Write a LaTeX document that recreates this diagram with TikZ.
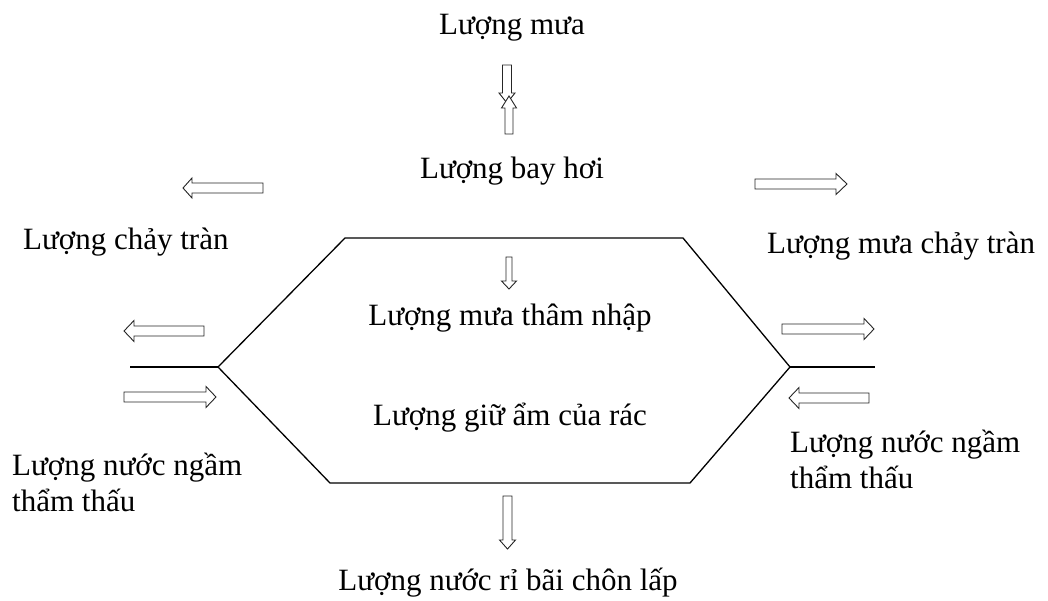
\documentclass[tikz,border=0pt]{standalone}
\usepackage{fontspec}
\setmainfont{Liberation Serif}
\tikzset{
  lbl/.style={inner sep=0pt, font=\fontsize{31}{36}\selectfont},
  hexline/.style={line width=1.3pt, black},
  blk/.style={draw=black!85, fill=white, line width=0.9pt, line join=miter}
}
% #1 x, #2 y (tail centre), #3 angle, #4 length, #5 shaft half width, #6 head half width, #7 head length
\newcommand{\barrow}[7]{%
  \draw[blk, shift={(#1,#2)}, rotate=#3]
    (0,-#5) -- (#4-#7,-#5) -- (#4-#7,-#6) -- (#4,0) -- (#4-#7,#6) -- (#4-#7,#5) -- (0,#5) -- cycle;}
\begin{document}
\begin{tikzpicture}[x=1pt, y=-1pt]
\useasboundingbox (0,0) rectangle (1048,601);
% hexagon
\coordinate (tl) at (345,238);
\coordinate (tr) at (683,238);
\coordinate (rv) at (790,367);
\coordinate (br) at (690,483);
\coordinate (bl) at (330,483);
\coordinate (lv) at (218,367);
\coordinate (le) at (130,367);
\coordinate (re) at (875,367);
\draw[hexline, line join=miter] (tl) -- (tr) -- (rv) -- (br) -- (bl) -- (lv) -- cycle;
\draw[hexline] (le) -- (lv);
\draw[hexline] (rv) -- (re);
% block arrows
\barrow{507}{65}{270}{38}{4.5}{8}{10}
\barrow{509}{134}{90}{38}{4}{7.5}{12}
\barrow{263}{188}{180}{80}{5}{10}{9}
\barrow{755}{184}{0}{92}{5}{10.5}{11}
\barrow{509}{257}{270}{32}{3}{7.5}{8}
\barrow{204}{331}{180}{80}{5}{10.5}{10}
\barrow{124}{397}{0}{92}{5}{10.5}{10}
\barrow{782}{329}{0}{92}{5}{10.5}{10}
\barrow{869}{398}{180}{80}{5}{10.5}{10}
\barrow{507.5}{496}{270}{53}{4.5}{8}{9}
% labels
\node[lbl, anchor=base] (mua) at (512,35) {Lượng mưa};
\node[lbl, anchor=base] (bayhoi) at (512,179) {Lượng bay hơi};
\node[lbl, anchor=base west] (chaytran) at (23,250) {Lượng chảy tràn};
\node[lbl, anchor=base west] (muachaytran) at (767,254) {Lượng mưa chảy tràn};
\node[lbl, anchor=base] (thamnhap) at (510,325) {Lượng mưa thâm nhập};
\node[lbl, anchor=base] (giuam) at (510,425) {Lượng giữ ẩm của rác};
\node[lbl, anchor=base west] (ngamL1) at (12,475) {Lượng nước ngầm};
\node[lbl, anchor=base west] (ngamL2) at (12,511) {thẩm thấu};
\node[lbl, anchor=base west] (ngamR1) at (790,452) {Lượng nước ngầm};
\node[lbl, anchor=base west] (ngamR2) at (790,488) {thẩm thấu};
\node[lbl, anchor=base] (ri) at (508,590) {Lượng nước rỉ bãi chôn lấp};
\end{tikzpicture}
\end{document}
